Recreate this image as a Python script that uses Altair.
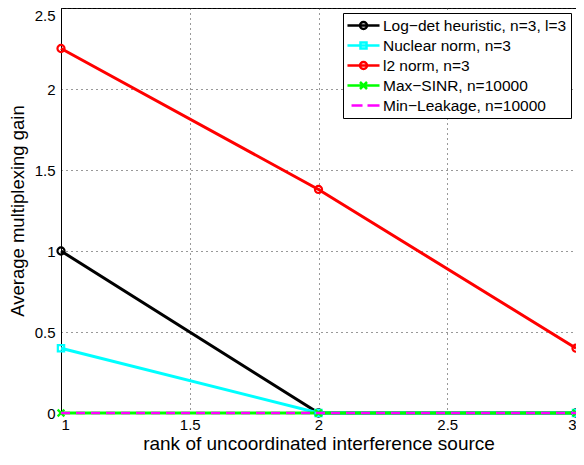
import altair as alt
import pandas as pd

# ---- data ----
series = ["Log\u2212det heuristic, n=3, l=3", "Nuclear norm, n=3", "l2 norm, n=3",
          "Max\u2212SINR, n=10000", "Min\u2212Leakage, n=10000"]
colors = ["#000000", "#00ffff", "#ff0000", "#00ff00", "#ff00ff"]
rank = [1, 2, 3]
logdet = [1.0, 0.0, 0.0]
nuclear = [0.4, 0.0, 0.0]
l2norm = [2.25, 1.38, 0.4]
maxsinr = [0.0, 0.0, 0.0]
minleak = [0.0, 0.0, 0.0]
x_ticks = [1, 1.5, 2, 2.5, 3]
y_ticks = [0, 0.5, 1, 1.5, 2, 2.5]

values = [logdet, nuclear, l2norm, maxsinr, minleak]
rows = []
for s, vals in zip(series, values):
    for r, v in zip(rank, vals):
        rows.append({"rank": r, "gain": v, "series": s})
df = pd.DataFrame(rows)

FONT = "Liberation Sans"

# legend symbols: line segment + marker (unit coordinates)
legend_paths = [
    "M-2.29,0H2.29M0.5,0A0.5,0.5,0,1,1,-0.5,0A0.5,0.5,0,1,1,0.5,0",
    "M-2.29,0H2.29M-0.43,-0.43H0.43V0.43H-0.43Z",
    "M-2.29,0H2.29M0.5,0A0.5,0.5,0,1,1,-0.5,0A0.5,0.5,0,1,1,0.5,0",
    "M-2.29,0H2.29M-0.5,-0.5L0.5,0.5M-0.5,0.5L0.5,-0.5",
    "M-1.71,0H-0.14M0.57,0H2.29",
]

xenc = alt.X("rank:Q", scale=alt.Scale(domain=[1, 3], nice=False),
             axis=alt.Axis(values=x_ticks, format="~g", title="rank of uncoordinated interference source"))
yenc = alt.Y("gain:Q", scale=alt.Scale(domain=[0, 2.5], nice=False),
             axis=alt.Axis(values=y_ticks, format="~g", title="Average multiplexing gain",
                           labelBaseline={"condition": {"test": "datum.value == 2.5", "value": "top"},
                                          "value": "middle"}))

legend_kw = dict(title=None, orient="none", legendX=282, legendY=5,
                 labelFont=FONT, labelFontSize=15.5, labelColor="black", labelLimit=400,
                 strokeColor="black", fillColor="white", padding=4,
                 rowPadding=3, symbolSize=196, symbolStrokeWidth=2.5,
                 symbolOffset=8, labelOffset=11, cornerRadius=0)
legend = alt.Legend(**legend_kw)

color = alt.Color("series:N", scale=alt.Scale(domain=series, range=colors), legend=legend)

base = alt.Chart(df)

solid = base.transform_filter(alt.datum.series != series[4]).mark_line(strokeWidth=3).encode(
    x=xenc, y=yenc, color=color, detail="series:N")
dashed = base.transform_filter(alt.datum.series == series[4]).mark_line(
    strokeWidth=2.5, strokeDash=[9, 6]).encode(x=xenc, y=yenc, color=color)

def markers(idx, shape, size):
    return base.transform_filter(alt.datum.series == series[idx]).mark_point(
        shape=shape, size=size, filled=False, strokeWidth=2.2, opacity=1).encode(
        x=xenc, y=yenc, color=color)

m0 = markers(0, "circle", 50)
m1 = markers(1, "square", 40)
m2 = markers(2, "circle", 50)
m3 = markers(3, "M-1,-1L1,1M-1,1L1,-1", 45)

legend_layer = base.transform_filter("false").mark_point(filled=False, opacity=1).encode(
    x=xenc, y=yenc, color=color,
    shape=alt.Shape("series:N", scale=alt.Scale(domain=series, range=legend_paths), legend=legend))

chart = alt.layer(solid, m0, m1, m2, m3, dashed, legend_layer).properties(
    width=515, height=405,
    autosize=alt.AutoSizeParams(type="none"),
    padding={"left": 53, "top": 0, "right": 0, "bottom": 41},
).configure_view(stroke="black", strokeWidth=1).configure_axis(
    labelFont=FONT, titleFont=FONT, labelFontSize=15, titleFontSize=18.5,
    labelColor="black", titleColor="black", titleFontWeight="normal",
    domainColor="black", domainWidth=1, ticks=False,
    grid=True, gridColor="#333333", gridDash=[1, 4], gridWidth=1,
).configure_axisX(labelPadding=4, titlePadding=2, titleFontSize=19).configure_axisY(
    labelPadding=6, titlePadding=7).configure_legend(
    labelFont=FONT, labelFontSize=15.5, labelLimit=400, rowPadding=3,
    symbolStrokeWidth=2.5, padding=4, cornerRadius=0)

chart.save("out.html", embed_options={"renderer": "svg", "actions": False})
